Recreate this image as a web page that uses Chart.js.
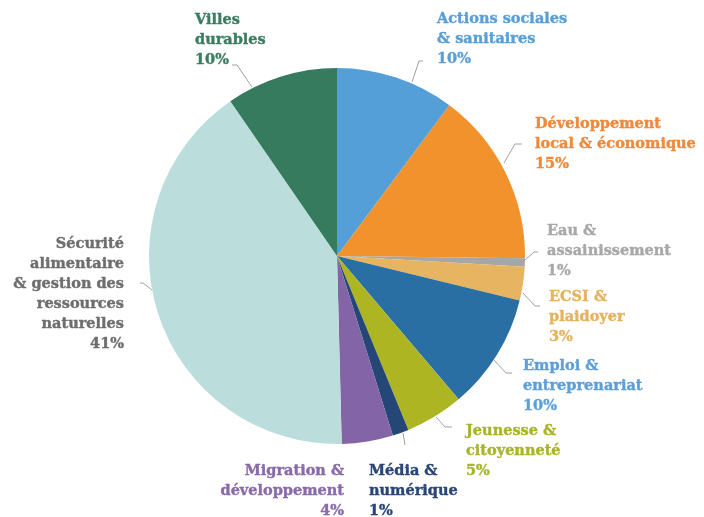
<!DOCTYPE html>
<html>
<head>
<meta charset="utf-8">
<script src="https://cdn.jsdelivr.net/npm/chart.js@4/dist/chart.umd.min.js"></script>
<style>
html,body{margin:0;padding:0;background:#fff;}
#wrap{width:704px;height:517px;position:relative;}
</style>
</head>
<body>
<div id="wrap"><canvas id="c" width="704" height="517"></canvas></div>
<script>
// ---- data ----
const categories = [
  ['Actions sociales', '& sanitaires'],
  ['Développement', 'local & économique'],
  ['Eau &', 'assainissement'],
  ['ECSI &', 'plaidoyer'],
  ['Emploi &', 'entreprenariat'],
  ['Jeunesse &', 'citoyenneté'],
  ['Média &', 'numérique'],
  ['Migration &', 'développement'],
  ['Sécurité', 'alimentaire', '& gestion des', 'ressources', 'naturelles'],
  ['Villes', 'durables']
];
const shares = [10.2, 15.0, 0.7, 2.9, 10.0, 5.0, 1.4, 4.4, 40.8, 9.6];

// ---- styles ----
const sliceColors = ['#559FD8','#F2922D','#A6A6A6','#E7B462','#2A6FA3','#ADB622','#254777','#8364A6','#BBDEDC','#377B5E'];
const textColors  = ['#5A9FD6','#F0893A','#A8A8A8','#E5B360','#5E9FD8','#A9B42A','#2B4676','#8A6AAA','#6E6E6E','#3C7D61'];
// label layout, offsets relative to pie centre: text anchor (x, first baseline), alignment, leader polyline
const labelLayout = [
  {x: 100, y:-233, align:'left',  line:[[75,-174],[82,-195],[86,-195]]},
  {x: 198, y:-128, align:'left',  line:[[167,-93],[178,-112],[185,-112]]},
  {x: 210, y: -21, align:'left',  line:[[188,4],[197,-4],[201,-4]]},
  {x: 212, y:  45, align:'left',  line:[[186,37],[198,50],[203,50]]},
  {x: 186, y: 114, align:'left',  line:[[157,104],[169,117],[175,117]]},
  {x: 129, y: 179, align:'left',  line:[[99,161],[108,171],[115,171]]},
  {x:  32, y: 219, align:'left',  line:[[66,177],[68,189]]},
  {x:   7, y: 219, align:'right', line:null},
  {x:-213, y:  -8, align:'right', line:[[-185,34],[-194,27],[-197,27]]},
  {x:-142, y:-232, align:'left',  line:[[-85,-169],[-100,-191],[-105,-191]]}
];
const FONT = 'bold 14.5px "DejaVu Serif"';
const LINE_H = 20;

const labelPlugin = {
  id: 'sliceLabels',
  afterDraw(chart) {
    const ctx = chart.ctx;
    const meta = chart.getDatasetMeta(0);
    const cx = meta.data[0].x, cy = meta.data[0].y;
    ctx.save();
    labelLayout.forEach((L, i) => {
      if (L.line) {
        ctx.beginPath();
        ctx.strokeStyle = '#A0A0A0';
        ctx.lineWidth = 1;
        L.line.forEach((p, k) => {
          const px = cx + p[0], py = cy + p[1];
          if (k === 0) ctx.moveTo(px, py); else ctx.lineTo(px, py);
        });
        ctx.stroke();
      }
      const lines = categories[i].concat([Math.round(chart.data.datasets[0].data[i]) + '%']);
      ctx.font = FONT;
      ctx.fillStyle = textColors[i];
      ctx.strokeStyle = textColors[i];
      ctx.lineWidth = 0.4;
      ctx.textAlign = L.align;
      ctx.textBaseline = 'alphabetic';
      lines.forEach((t, k) => {
        ctx.fillText(t, cx + L.x, cy + L.y + k * LINE_H);
        ctx.strokeText(t, cx + L.x, cy + L.y + k * LINE_H);
      });
    });
    ctx.restore();
  }
};

new Chart(document.getElementById('c'), {
  type: 'pie',
  data: {
    labels: categories.map(c => c.join(' ')),
    datasets: [{
      data: shares,
      backgroundColor: sliceColors,
      borderWidth: 0
    }]
  },
  options: {
    responsive: false,
    animation: false,
    layout: {padding: {left: 149, right: 179, top: 68, bottom: 73}},
    plugins: {legend: {display: false}, tooltip: {enabled: false}}
  },
  plugins: [labelPlugin]
});
</script>
</body>
</html>
